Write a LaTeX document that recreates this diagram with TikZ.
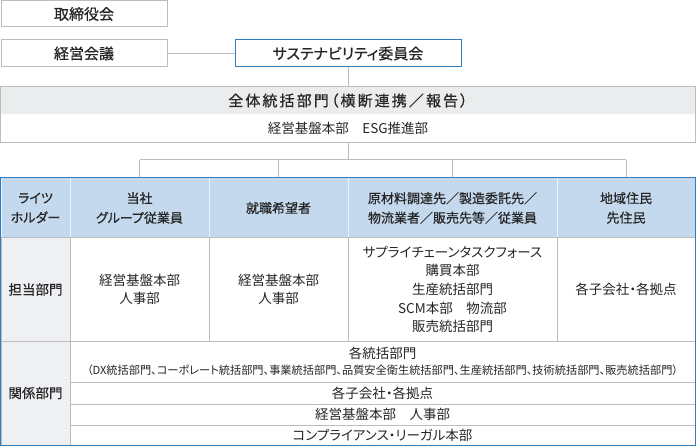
\documentclass[tikz,border=0pt]{standalone}
\usepackage{fontspec}
\setmainfont{Noto Sans CJK JP}[RawFeature=+palt]
\newfontfamily\hfont{Noto Sans CJK JP}[RawFeature=+palt,FakeBold=0.6]
\definecolor{linegray}{HTML}{BDBDBD}
\definecolor{bandgray}{HTML}{EBECEE}
\definecolor{rulesblue}{HTML}{2F7DC1}
\definecolor{headblue}{HTML}{C5D9EE}
\definecolor{sidegray}{HTML}{EFF0F3}
\definecolor{inkgray}{HTML}{262626}
\tikzset{
  orgbox/.style={draw=linegray, line width=1pt, fill=white, inner sep=0pt,
    align=center, text=inkgray, font=\hfont\fontsize{15}{17}\selectfont},
  hcell/.style={draw=headblue!35!white, line width=1pt, fill=headblue, inner sep=0pt,
    align=center, text=inkgray, font=\hfont\fontsize{13}{19.5}\selectfont},
  bcell/.style={draw=linegray, line width=1pt, fill=white, inner sep=0pt,
    align=center, text=inkgray, font=\fontsize{13.5}{18.7}\selectfont},
  scell/.style={bcell, fill=sidegray, font=\hfont\fontsize{13.5}{17}\selectfont},
  wire/.style={draw=linegray, line width=1pt}
}
\begin{document}
\begin{tikzpicture}[x=1pt,y=-1pt]
\useasboundingbox (0,0) rectangle (696,446);
% upper organisation
\node[orgbox, minimum width=166, minimum height=26] (board) at (84,14) {取締役会};
\node[orgbox, minimum width=166, minimum height=27] (mgmt) at (84,53.5) {経営会議};
\node[orgbox, draw=rulesblue, minimum width=226, minimum height=27] (sc) at (348,53.5) {サステナビリティ委員会};
\node[orgbox, draw=none, fill=bandgray, minimum width=694, minimum height=27] (hq) at (348,100.5)
  {\addfontfeature{LetterSpace=14}全体統括部門（横断連携／報告）};
\node[orgbox, draw=none, minimum width=694, minimum height=28, font=\fontsize{13.5}{17}\selectfont] (esg) at (348,128)
  {経営基盤本部　ESG推進部};
\draw[linegray, line width=1pt] (hq.north west) rectangle (esg.south east);
\path[wire]
(mgmt) edge (sc)
(sc) edge (hq);
% table header
\node[hcell, minimum width=69, minimum height=60] (hdr0) at (35.5,208) {ライツ\\ホルダー};
\node[hcell, minimum width=139, minimum height=60] (hdr1) at (139.5,208) {当社\\グループ従業員};
\node[hcell, minimum width=139, minimum height=60] (hdr2) at (278.5,208) {就職希望者};
\node[hcell, minimum width=209, minimum height=60] (hdr3) at (452.5,208) {原材料調達先／製造委託先／\\物流業者／販売先等／従業員};
\node[hcell, minimum width=138, minimum height=60] (hdr4) at (626,208) {地域住民\\先住民};
% bus to the stakeholders
\coordinate (bus) at (348,160);
\draw[wire] (esg) -- (bus);
\draw[wire] (hdr1.north |- bus) -- (hdr4.north |- bus);
\foreach \c in {1,...,4}
  \draw[wire] (hdr\c.north |- bus) -- (hdr\c.north);
% responsible departments
\node[scell, minimum width=69, minimum height=103] (tan0) at (35.5,289.5) {担当部門};
\node[bcell, minimum width=139, minimum height=103] (tan1) at (139.5,289.5) {経営基盤本部\\人事部};
\node[bcell, minimum width=139, minimum height=103] (tan2) at (278.5,289.5) {経営基盤本部\\人事部};
\node[bcell, minimum width=209, minimum height=103] (tan3) at (452.5,289.5)
  {サプライチェーンタスクフォース\\購買本部\\生産統括部門\\SCM本部　物流部\\販売統括部門};
\node[bcell, minimum width=138, minimum height=103] (tan4) at (626,289.5) {各子会社・各拠点};
% related departments
\node[scell, minimum width=69, minimum height=104] (kan0) at (35.5,393) {関係部門};
\node[bcell, minimum width=625, minimum height=41] (kan1) at (382.5,361.5)
  {各統括部門\\[-3pt]{\fontsize{11.2}{12}\selectfont（DX統括部門、コーポレート統括部門、事業統括部門、品質安全衛生統括部門、生産統括部門、技術統括部門、販売統括部門）}};
\node[bcell, minimum width=625, minimum height=22] (kan2) at (382.5,393) {各子会社・各拠点};
\node[bcell, minimum width=625, minimum height=21] (kan3) at (382.5,414.5) {経営基盤本部　人事部};
\node[bcell, minimum width=625, minimum height=20] (kan4) at (382.5,435) {コンプライアンス・リーガル本部};
\draw[rulesblue, line width=1.6pt] (hdr0.north west) rectangle (kan4.south east);
\end{tikzpicture}
\end{document}
